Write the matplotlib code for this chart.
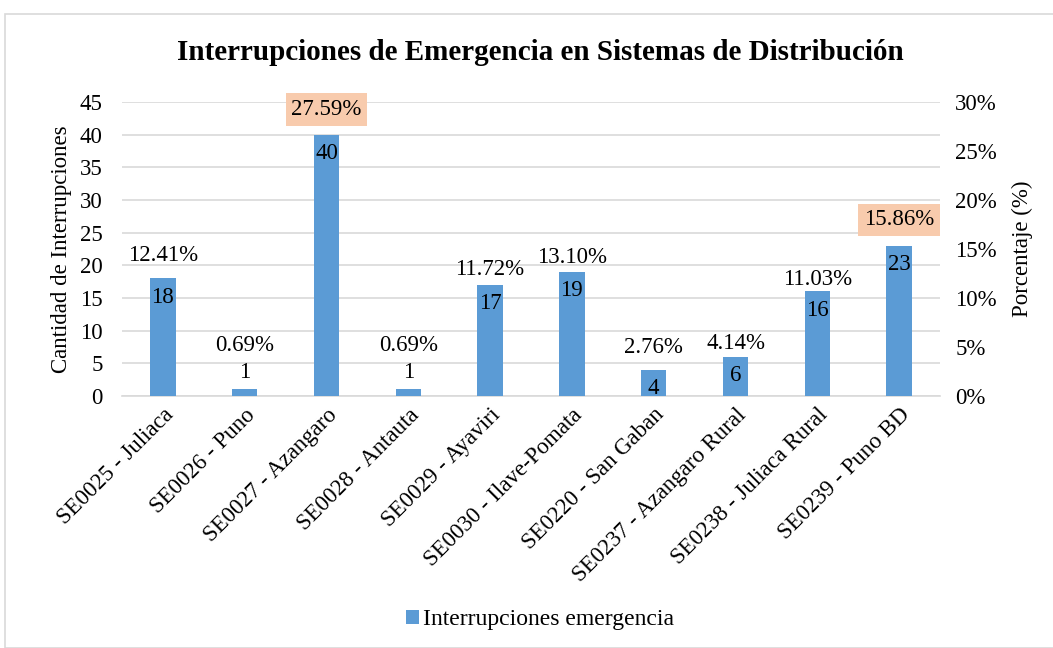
import matplotlib.pyplot as plt
from matplotlib.patches import Rectangle
from matplotlib.ticker import PercentFormatter
import numpy as np

plt.rcParams['font.family'] = ['Liberation Serif', 'DejaVu Serif']

categories = ['SE0025 - Juliaca', 'SE0026 - Puno', 'SE0027 - Azangaro',
              'SE0028 - Antauta', 'SE0029 - Ayaviri', 'SE0030 - Ilave-Pomata',
              'SE0220 - San Gaban', 'SE0237 - Azangaro Rural',
              'SE0238 - Juliaca Rural', 'SE0239 - Puno BD']
counts = [18, 1, 40, 1, 17, 19, 4, 6, 16, 23]
percents = ['12.41%', '0.69%', '27.59%', '0.69%', '11.72%', '13.10%',
            '2.76%', '4.14%', '11.03%', '15.86%']
highlighted = [2, 9]

# manual label offsets (pixels above bar top), like the original
pct_offsets = [23, 44, 25, 44, 15, 14, 22, 13, 12, 26]

bar_color = '#5B9BD5'
grid_color = '#D9D9D9'
fs = 16.5

fig = plt.figure(figsize=(10.53, 6.48), dpi=100)
fig.patches.append(Rectangle((5 / 1053, 0), 1.2, (648 - 14) / 648,
                             transform=fig.transFigure, fill=False,
                             edgecolor='#D9D9D9', linewidth=1.2))

ax = fig.add_axes([122 / 1053, 1 - 396 / 648, 818 / 1053, 294 / 648])
x = np.arange(len(categories))
bars = ax.bar(x, counts, width=0.31, color=bar_color, zorder=3,
              label='Interrupciones emergencia')

ax.set_xlim(-0.5, len(categories) - 0.5)
ax.set_ylim(0, 45)
ax.set_yticks(range(0, 46, 5))
ax.yaxis.grid(True, color=grid_color, linewidth=1.2, zorder=0)
for s in ['top', 'right', 'left']:
    ax.spines[s].set_visible(False)
ax.spines['bottom'].set_color(grid_color)
ax.spines['bottom'].set_linewidth(1.2)
ax.tick_params(axis='both', length=0, labelsize=fs)
ax.tick_params(axis='y', pad=14)
ax.set_xticks(x)
ax.set_xticklabels(categories, rotation=45, ha='right',
                   rotation_mode='anchor', fontsize=fs)
ax.tick_params(axis='x', pad=6)
ax.set_ylabel('Cantidad de Interrupciones', fontsize=fs)
ax.yaxis.set_label_coords(-0.061, 0.5)

ax2 = ax.twinx()
ax2.set_ylim(0, 0.30)
ax2.set_yticks(np.arange(0, 0.31, 0.05))
ax2.yaxis.set_major_formatter(PercentFormatter(1.0, decimals=0))
ax2.tick_params(axis='y', length=0, labelsize=fs, pad=11)
for s in ['top', 'right', 'left', 'bottom']:
    ax2.spines[s].set_visible(False)
ax2.set_ylabel('Porcentaje (%)', fontsize=fs)
ax2.yaxis.set_label_coords(1.088, 0.5)

for i, (c, p) in enumerate(zip(counts, percents)):
    if c >= 4:
        ax.annotate(str(c), (i, c), xytext=(0, -19), textcoords='offset pixels',
                    ha='center', va='center', fontsize=fs, zorder=5)
    else:
        ax.annotate(str(c), (i, c), xytext=(0, 17), textcoords='offset pixels',
                    ha='center', va='center', fontsize=fs, zorder=5)
    box = None
    if i in highlighted:
        box = dict(boxstyle='square,pad=0.25', facecolor='#F8CBAD',
                   edgecolor='none')
    ax.annotate(p, (i, c), xytext=(0, pct_offsets[i]), textcoords='offset pixels',
                ha='center', va='center', fontsize=fs, bbox=box, zorder=5)

fig.text(540 / 1053, 1 - 52 / 648,
         'Interrupciones de Emergencia en Sistemas de Distribución',
         ha='center', va='center', fontsize=21, fontweight='bold')

fig.legend(handles=[bars], loc='center', bbox_to_anchor=(540 / 1053, 1 - 620 / 648),
           frameon=False, fontsize=fs + 0.5, handlelength=0.55, handleheight=0.55,
           handletextpad=0.15)

fig.savefig('out.png', dpi=100)
